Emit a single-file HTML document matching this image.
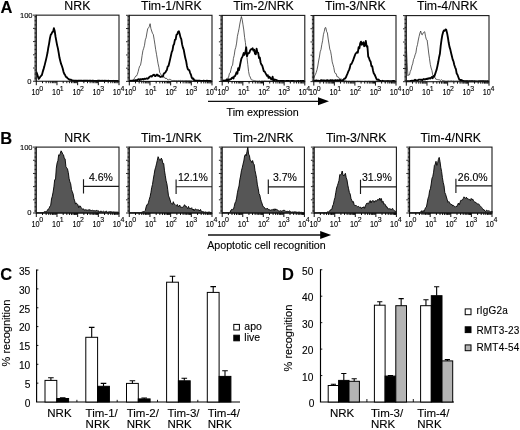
<!DOCTYPE html>
<html><head><meta charset="utf-8"><title>Figure</title>
<style>html,body{margin:0;padding:0;background:#fff;}body{width:520px;height:430px;overflow:hidden;font-family:"Liberation Sans",sans-serif;}svg{display:block;filter:blur(0.35px);}</style>
</head><body>
<svg width="520" height="430" viewBox="0 0 520 430" font-family="Liberation Sans, sans-serif" fill="#000">
<style>text{fill:#000;stroke:#000;stroke-width:0.12px;}</style>
<rect width="520" height="430" fill="#fff"/>
<text transform="translate(0.6,13.0) scale(1.02,1)" font-size="16.2" font-weight="bold" style="stroke-width:0.1px">A</text>
<text transform="translate(0.2,143.9) scale(1.02,1)" font-size="16.2" font-weight="bold" style="stroke-width:0.1px">B</text>
<text transform="translate(0.2,279.6) scale(1.02,1)" font-size="16.2" font-weight="bold" style="stroke-width:0.1px">C</text>
<text transform="translate(281.9,279.5) scale(1.02,1)" font-size="16.2" font-weight="bold" style="stroke-width:0.1px">D</text>
<text x="77.35" y="9.80" font-size="12.35" text-anchor="middle" font-weight="normal" fill="#000">NRK</text>
<path d="M36.3,71.9 L37.1,73.8 L37.9,76.4 L38.7,78.9 L39.5,77.9 L40.3,76.7 L41.1,75.9 L41.9,74.9 L42.7,71.9 L43.5,69.4 L44.3,66.6 L45.1,63.4 L45.9,60.1 L46.7,56.6 L47.5,52.8 L48.3,47.7 L49.1,43.6 L49.9,38.5 L50.7,34.9 L51.5,33.9 L52.3,32.1 L53.1,31.7 L53.9,28.2 L54.7,31.0 L55.5,36.5 L56.3,40.8 L57.1,45.1 L57.9,48.4 L58.7,52.9 L59.5,57.8 L60.3,60.9 L61.1,63.9 L61.9,66.0 L62.7,68.5 L63.5,71.8 L64.3,73.9 L65.1,75.0 L65.9,76.9 L66.7,77.1 L67.5,78.3 L68.3,78.8 L69.1,79.4 L69.9,79.9 L70.7,79.6 L71.5,80.1 L72.3,80.3 L73.1,80.5 L73.9,80.6 L74.7,80.6 L75.5,80.6 L76.3,80.6 L77.1,80.8 L77.9,80.7 L78.7,80.7 L79.5,80.6 L80.3,80.6 L81.1,80.7 L81.9,80.6 L82.7,80.8 L83.5,80.7 L84.3,80.7 L85.1,80.7 L85.9,80.7 L86.7,80.7 L87.5,80.6 L88.3,80.8 L89.1,80.6 L89.9,80.7 L90.7,80.7 L91.5,80.8 L92.3,80.7 L93.1,80.7 L93.9,80.8 L94.7,80.8 L95.5,80.8 L96.3,80.8 L97.1,80.8 L97.9,80.7 L98.7,80.7 L99.5,80.7 L100.3,80.8 L101.1,80.7 L101.9,80.8 L102.7,80.7 L103.5,80.8 L104.3,80.7 L105.1,80.8 L105.9,80.7 L106.7,80.8 L107.5,80.9 L108.3,80.7 L109.1,80.8 L109.9,80.9 L110.7,80.9 L111.5,80.9 L112.3,80.9 L113.1,80.9 L113.9,80.8 L114.7,80.9 L115.5,80.8 L116.3,80.9 L117.1,80.8 L117.9,80.8 L118.7,80.9" fill="none" stroke="#000" stroke-width="1.85" stroke-linejoin="round"/>
<rect x="36.3" y="15.15" width="82.7" height="66.1" fill="none" stroke="#1a1a1a" stroke-width="1.1"/>
<path d="M33.0,81.25H36.3M34.4,79.93H36.3M34.4,78.61H36.3M34.4,77.28H36.3M34.4,75.96H36.3M34.4,74.64H36.3M34.4,73.32H36.3M34.4,72.00H36.3M34.4,70.67H36.3M34.4,69.35H36.3M33.0,68.03H36.3M34.4,66.71H36.3M34.4,65.39H36.3M34.4,64.06H36.3M34.4,62.74H36.3M34.4,61.42H36.3M34.4,60.10H36.3M34.4,58.78H36.3M34.4,57.45H36.3M34.4,56.13H36.3M33.0,54.81H36.3M34.4,53.49H36.3M34.4,52.17H36.3M34.4,50.84H36.3M34.4,49.52H36.3M34.4,48.20H36.3M34.4,46.88H36.3M34.4,45.56H36.3M34.4,44.23H36.3M34.4,42.91H36.3M33.0,41.59H36.3M34.4,40.27H36.3M34.4,38.95H36.3M34.4,37.62H36.3M34.4,36.30H36.3M34.4,34.98H36.3M34.4,33.66H36.3M34.4,32.34H36.3M34.4,31.01H36.3M34.4,29.69H36.3M33.0,28.37H36.3M34.4,27.05H36.3M34.4,25.73H36.3M34.4,24.40H36.3M34.4,23.08H36.3M34.4,21.76H36.3M34.4,20.44H36.3M34.4,19.12H36.3M34.4,17.79H36.3M34.4,16.47H36.3M33.0,15.15H36.3" stroke="#000" stroke-width="0.85" fill="none"/>
<path d="M36.30,81.25V85.2M42.52,81.25V83.2M46.16,81.25V83.2M48.75,81.25V83.2M50.75,81.25V83.2M52.39,81.25V83.2M53.77,81.25V83.2M54.97,81.25V83.2M56.03,81.25V83.2M56.97,81.25V85.2M63.20,81.25V83.2M66.84,81.25V83.2M69.42,81.25V83.2M71.43,81.25V83.2M73.06,81.25V83.2M74.45,81.25V83.2M75.65,81.25V83.2M76.70,81.25V83.2M77.65,81.25V85.2M83.87,81.25V83.2M87.51,81.25V83.2M90.10,81.25V83.2M92.10,81.25V83.2M93.74,81.25V83.2M95.12,81.25V83.2M96.32,81.25V83.2M97.38,81.25V83.2M98.33,81.25V85.2M104.55,81.25V83.2M108.19,81.25V83.2M110.77,81.25V83.2M112.78,81.25V83.2M114.41,81.25V83.2M115.80,81.25V83.2M117.00,81.25V83.2M118.05,81.25V83.2M119.00,81.25V85.2" stroke="#000" stroke-width="0.95" fill="none"/>
<text transform="translate(31.50,94.95) scale(0.85,1)" font-size="8.6">10</text>
<text x="39.20" y="90.55" font-size="7">0</text>
<text transform="translate(52.07,94.95) scale(0.85,1)" font-size="8.6">10</text>
<text x="59.77" y="90.55" font-size="7">1</text>
<text transform="translate(72.40,94.95) scale(0.85,1)" font-size="8.6">10</text>
<text x="80.10" y="90.55" font-size="7">2</text>
<text transform="translate(92.53,94.95) scale(0.85,1)" font-size="8.6">10</text>
<text x="100.23" y="90.55" font-size="7">3</text>
<text transform="translate(112.70,94.95) scale(0.85,1)" font-size="8.6">10</text>
<text x="120.40" y="90.55" font-size="7">4</text>
<text x="32.60" y="17.85" font-size="7.6" text-anchor="end" fill="#000">100</text>
<text x="31.50" y="83.65" font-size="7.6" text-anchor="end" fill="#000">0</text>
<text x="171.35" y="9.80" font-size="12.35" text-anchor="middle" font-weight="normal" fill="#000">Tim-1/NRK</text>
<path d="M129.3,80.9 L130.1,80.9 L130.9,80.8 L131.7,81.0 L132.5,80.5 L133.3,79.9 L134.1,78.9 L134.9,77.4 L135.7,76.2 L136.5,76.0 L137.3,74.4 L138.1,71.8 L138.9,68.5 L139.7,66.1 L140.5,65.2 L141.3,61.1 L142.1,55.5 L142.9,50.7 L143.7,48.3 L144.5,45.3 L145.3,39.8 L146.1,37.8 L146.9,33.0 L147.7,28.8 L148.5,27.9 L149.3,26.5 L150.1,23.7 L150.9,28.5 L151.7,31.0 L152.5,33.3 L153.3,34.5 L154.1,39.2 L154.9,44.2 L155.7,49.7 L156.5,54.3 L157.3,59.1 L158.1,63.8 L158.9,67.3 L159.7,72.5 L160.5,73.7 L161.3,75.3 L162.1,76.5 L162.9,76.5 L163.7,77.0 L164.5,77.1 L165.3,78.6 L166.1,78.3 L166.9,78.6 L167.7,79.8 L168.5,79.8 L169.3,79.3 L170.1,79.6 L170.9,79.7 L171.7,80.4 L172.5,80.5 L173.3,80.5 L174.1,80.4 L174.9,80.6 L175.7,80.6 L176.5,80.5 L177.3,80.8 L178.1,80.4 L178.9,80.7 L179.7,80.6 L180.5,80.4 L181.3,80.7 L182.1,80.7 L182.9,80.5 L183.7,80.8 L184.5,80.7 L185.3,80.6 L186.1,80.6 L186.9,80.6 L187.7,80.7 L188.5,80.6 L189.3,80.6 L190.1,80.7 L190.9,80.8 L191.7,80.8 L192.5,81.0 L193.3,80.7 L194.1,81.0 L194.9,80.7 L195.7,80.6 L196.5,80.9 L197.3,80.9 L198.1,80.9 L198.9,80.8 L199.7,80.9 L200.5,80.9 L201.3,80.9 L202.1,80.9 L202.9,80.8 L203.7,81.0 L204.5,80.9 L205.3,80.9 L206.1,80.8 L206.9,81.0 L207.7,80.8 L208.5,80.9 L209.3,80.9 L210.1,81.0 L210.9,81.1 L211.7,81.0" fill="none" stroke="#2a2a2a" stroke-width="0.75" stroke-linejoin="round"/>
<path d="M129.3,80.9 L130.1,80.8 L130.9,80.6 L131.7,80.8 L132.5,80.5 L133.3,80.8 L134.1,80.5 L134.9,80.4 L135.7,80.1 L136.5,80.2 L137.3,80.4 L138.1,79.4 L138.9,79.2 L139.7,80.1 L140.5,79.2 L141.3,79.6 L142.1,79.1 L142.9,78.9 L143.7,79.5 L144.5,78.6 L145.3,79.0 L146.1,78.7 L146.9,78.2 L147.7,78.8 L148.5,78.3 L149.3,77.0 L150.1,76.5 L150.9,76.1 L151.7,76.6 L152.5,75.6 L153.3,74.8 L154.1,74.7 L154.9,76.1 L155.7,76.1 L156.5,74.7 L157.3,74.6 L158.1,75.9 L158.9,75.7 L159.7,76.5 L160.5,77.0 L161.3,76.6 L162.1,76.4 L162.9,76.5 L163.7,73.8 L164.5,73.0 L165.3,72.7 L166.1,71.1 L166.9,69.9 L167.7,66.5 L168.5,66.0 L169.3,62.8 L170.1,59.4 L170.9,55.8 L171.7,52.1 L172.5,50.3 L173.3,45.5 L174.1,44.1 L174.9,39.8 L175.7,39.4 L176.5,34.7 L177.3,34.2 L178.1,31.7 L178.9,31.2 L179.7,34.0 L180.5,37.4 L181.3,39.1 L182.1,44.4 L182.9,47.6 L183.7,49.7 L184.5,54.0 L185.3,58.1 L186.1,60.9 L186.9,65.7 L187.7,68.9 L188.5,69.9 L189.3,70.2 L190.1,72.8 L190.9,74.6 L191.7,77.6 L192.5,78.8 L193.3,78.4 L194.1,80.1 L194.9,81.2 L195.7,80.5 L196.5,80.6 L197.3,80.6 L198.1,80.6 L198.9,80.7 L199.7,80.7 L200.5,80.9 L201.3,80.8 L202.1,80.9 L202.9,80.9 L203.7,80.6 L204.5,80.8 L205.3,80.8 L206.1,81.0 L206.9,80.6 L207.7,81.1 L208.5,81.0 L209.3,80.9 L210.1,81.0 L210.9,81.1 L211.7,80.9" fill="none" stroke="#000" stroke-width="1.85" stroke-linejoin="round"/>
<rect x="129.3" y="15.3" width="82.69999999999999" height="66.10000000000001" fill="none" stroke="#1a1a1a" stroke-width="1.1"/>
<path d="M126.0,81.40H129.3M127.4,80.08H129.3M127.4,78.76H129.3M127.4,77.43H129.3M127.4,76.11H129.3M127.4,74.79H129.3M127.4,73.47H129.3M127.4,72.15H129.3M127.4,70.82H129.3M127.4,69.50H129.3M126.0,68.18H129.3M127.4,66.86H129.3M127.4,65.54H129.3M127.4,64.21H129.3M127.4,62.89H129.3M127.4,61.57H129.3M127.4,60.25H129.3M127.4,58.93H129.3M127.4,57.60H129.3M127.4,56.28H129.3M126.0,54.96H129.3M127.4,53.64H129.3M127.4,52.32H129.3M127.4,50.99H129.3M127.4,49.67H129.3M127.4,48.35H129.3M127.4,47.03H129.3M127.4,45.71H129.3M127.4,44.38H129.3M127.4,43.06H129.3M126.0,41.74H129.3M127.4,40.42H129.3M127.4,39.10H129.3M127.4,37.77H129.3M127.4,36.45H129.3M127.4,35.13H129.3M127.4,33.81H129.3M127.4,32.49H129.3M127.4,31.16H129.3M127.4,29.84H129.3M126.0,28.52H129.3M127.4,27.20H129.3M127.4,25.88H129.3M127.4,24.55H129.3M127.4,23.23H129.3M127.4,21.91H129.3M127.4,20.59H129.3M127.4,19.27H129.3M127.4,17.94H129.3M127.4,16.62H129.3M126.0,15.30H129.3" stroke="#000" stroke-width="0.85" fill="none"/>
<path d="M129.30,81.4V85.4M135.52,81.4V83.4M139.16,81.4V83.4M141.75,81.4V83.4M143.75,81.4V83.4M145.39,81.4V83.4M146.77,81.4V83.4M147.97,81.4V83.4M149.03,81.4V83.4M149.98,81.4V85.4M156.20,81.4V83.4M159.84,81.4V83.4M162.42,81.4V83.4M164.43,81.4V83.4M166.06,81.4V83.4M167.45,81.4V83.4M168.65,81.4V83.4M169.70,81.4V83.4M170.65,81.4V85.4M176.87,81.4V83.4M180.51,81.4V83.4M183.10,81.4V83.4M185.10,81.4V83.4M186.74,81.4V83.4M188.12,81.4V83.4M189.32,81.4V83.4M190.38,81.4V83.4M191.32,81.4V85.4M197.55,81.4V83.4M201.19,81.4V83.4M203.77,81.4V83.4M205.78,81.4V83.4M207.41,81.4V83.4M208.80,81.4V83.4M210.00,81.4V83.4M211.05,81.4V83.4M212.00,81.4V85.4" stroke="#000" stroke-width="0.95" fill="none"/>
<text transform="translate(124.50,95.10) scale(0.85,1)" font-size="8.6">10</text>
<text x="132.20" y="90.70" font-size="7">0</text>
<text transform="translate(145.08,95.10) scale(0.85,1)" font-size="8.6">10</text>
<text x="152.78" y="90.70" font-size="7">1</text>
<text transform="translate(165.40,95.10) scale(0.85,1)" font-size="8.6">10</text>
<text x="173.10" y="90.70" font-size="7">2</text>
<text transform="translate(185.52,95.10) scale(0.85,1)" font-size="8.6">10</text>
<text x="193.22" y="90.70" font-size="7">3</text>
<text transform="translate(205.70,95.10) scale(0.85,1)" font-size="8.6">10</text>
<text x="213.40" y="90.70" font-size="7">4</text>
<text x="263.50" y="9.80" font-size="12.35" text-anchor="middle" font-weight="normal" fill="#000">Tim-2/NRK</text>
<path d="M222.2,81.1 L223.0,81.1 L223.8,80.9 L224.6,81.0 L225.4,79.9 L226.2,80.0 L227.0,78.5 L227.8,77.7 L228.6,77.3 L229.4,73.5 L230.2,72.9 L231.0,69.4 L231.8,66.1 L232.6,65.2 L233.4,58.5 L234.2,55.4 L235.0,49.8 L235.8,47.3 L236.6,43.1 L237.4,36.3 L238.2,32.7 L239.0,28.8 L239.8,24.0 L240.6,19.9 L241.4,16.5 L242.2,19.7 L243.0,24.8 L243.8,30.0 L244.6,37.4 L245.4,42.5 L246.2,50.1 L247.0,57.7 L247.8,64.6 L248.6,71.6 L249.4,75.6 L250.2,77.0 L251.0,79.1 L251.8,80.2 L252.6,80.1 L253.4,80.4 L254.2,80.6 L255.0,80.8 L255.8,80.8 L256.6,81.0 L257.4,81.0 L258.2,81.1 L259.0,81.0 L259.8,80.8 L260.6,81.3 L261.4,81.0 L262.2,81.0 L263.0,80.9 L263.8,81.1 L264.6,80.8 L265.4,80.9 L266.2,81.0 L267.0,81.0 L267.8,81.1 L268.6,81.0 L269.4,81.0 L270.2,80.9 L271.0,81.0 L271.8,81.0 L272.6,81.0 L273.4,81.0 L274.2,81.0 L275.0,81.2 L275.8,80.9 L276.6,81.1 L277.4,81.1 L278.2,81.1 L279.0,81.0 L279.8,80.9 L280.6,81.2 L281.4,80.9 L282.2,80.9 L283.0,81.1 L283.8,81.1 L284.6,81.1 L285.4,81.1 L286.2,81.2 L287.0,81.2 L287.8,81.1 L288.6,81.0 L289.4,80.9 L290.2,81.2 L291.0,81.3 L291.8,81.1 L292.6,81.1 L293.4,81.0 L294.2,81.1 L295.0,81.2 L295.8,81.1 L296.6,81.0 L297.4,81.1 L298.2,81.2 L299.0,81.0 L299.8,81.2 L300.6,81.1 L301.4,81.1 L302.2,81.2 L303.0,81.2 L303.8,81.1 L304.6,81.1" fill="none" stroke="#2a2a2a" stroke-width="0.75" stroke-linejoin="round"/>
<path d="M222.2,81.0 L223.0,81.1 L223.8,80.5 L224.6,80.6 L225.4,80.5 L226.2,80.9 L227.0,79.4 L227.8,80.7 L228.6,79.2 L229.4,79.9 L230.2,79.3 L231.0,79.1 L231.8,78.0 L232.6,77.4 L233.4,78.6 L234.2,76.3 L235.0,76.1 L235.8,74.4 L236.6,72.1 L237.4,73.7 L238.2,68.1 L239.0,70.1 L239.8,66.2 L240.6,62.2 L241.4,58.6 L242.2,57.1 L243.0,55.4 L243.8,52.9 L244.6,54.8 L245.4,52.2 L246.2,47.3 L247.0,56.1 L247.8,53.6 L248.6,53.1 L249.4,52.8 L250.2,50.3 L251.0,49.2 L251.8,49.2 L252.6,48.3 L253.4,50.6 L254.2,49.7 L255.0,53.7 L255.8,54.3 L256.6,48.6 L257.4,52.5 L258.2,52.8 L259.0,58.1 L259.8,57.5 L260.6,62.5 L261.4,64.6 L262.2,65.4 L263.0,68.2 L263.8,71.3 L264.6,71.3 L265.4,72.9 L266.2,74.4 L267.0,75.9 L267.8,75.2 L268.6,77.9 L269.4,76.8 L270.2,77.7 L271.0,79.1 L271.8,79.3 L272.6,76.7 L273.4,80.7 L274.2,79.4 L275.0,80.0 L275.8,79.7 L276.6,80.3 L277.4,80.5 L278.2,80.8 L279.0,81.0 L279.8,81.2 L280.6,81.0 L281.4,80.9 L282.2,80.9 L283.0,80.8 L283.8,81.0 L284.6,81.2 L285.4,81.1 L286.2,81.0 L287.0,80.9 L287.8,80.9 L288.6,80.9 L289.4,81.2 L290.2,81.1 L291.0,81.0 L291.8,81.0 L292.6,80.9 L293.4,81.2 L294.2,81.0 L295.0,81.3 L295.8,81.1 L296.6,81.1 L297.4,81.1 L298.2,80.9 L299.0,81.1 L299.8,81.1 L300.6,81.0 L301.4,81.2 L302.2,80.9 L303.0,81.2 L303.8,81.0 L304.6,81.1" fill="none" stroke="#000" stroke-width="1.85" stroke-linejoin="round"/>
<rect x="222.2" y="15.4" width="82.60000000000002" height="66.1" fill="none" stroke="#1a1a1a" stroke-width="1.1"/>
<path d="M218.9,81.50H222.2M220.3,80.18H222.2M220.3,78.86H222.2M220.3,77.53H222.2M220.3,76.21H222.2M220.3,74.89H222.2M220.3,73.57H222.2M220.3,72.25H222.2M220.3,70.92H222.2M220.3,69.60H222.2M218.9,68.28H222.2M220.3,66.96H222.2M220.3,65.64H222.2M220.3,64.31H222.2M220.3,62.99H222.2M220.3,61.67H222.2M220.3,60.35H222.2M220.3,59.03H222.2M220.3,57.70H222.2M220.3,56.38H222.2M218.9,55.06H222.2M220.3,53.74H222.2M220.3,52.42H222.2M220.3,51.09H222.2M220.3,49.77H222.2M220.3,48.45H222.2M220.3,47.13H222.2M220.3,45.81H222.2M220.3,44.48H222.2M220.3,43.16H222.2M218.9,41.84H222.2M220.3,40.52H222.2M220.3,39.20H222.2M220.3,37.87H222.2M220.3,36.55H222.2M220.3,35.23H222.2M220.3,33.91H222.2M220.3,32.59H222.2M220.3,31.26H222.2M220.3,29.94H222.2M218.9,28.62H222.2M220.3,27.30H222.2M220.3,25.98H222.2M220.3,24.65H222.2M220.3,23.33H222.2M220.3,22.01H222.2M220.3,20.69H222.2M220.3,19.37H222.2M220.3,18.04H222.2M220.3,16.72H222.2M218.9,15.40H222.2" stroke="#000" stroke-width="0.85" fill="none"/>
<path d="M222.20,81.5V85.5M228.42,81.5V83.5M232.05,81.5V83.5M234.63,81.5V83.5M236.63,81.5V83.5M238.27,81.5V83.5M239.65,81.5V83.5M240.85,81.5V83.5M241.91,81.5V83.5M242.85,81.5V85.5M249.07,81.5V83.5M252.70,81.5V83.5M255.28,81.5V83.5M257.28,81.5V83.5M258.92,81.5V83.5M260.30,81.5V83.5M261.50,81.5V83.5M262.56,81.5V83.5M263.50,81.5V85.5M269.72,81.5V83.5M273.35,81.5V83.5M275.93,81.5V83.5M277.93,81.5V83.5M279.57,81.5V83.5M280.95,81.5V83.5M282.15,81.5V83.5M283.21,81.5V83.5M284.15,81.5V85.5M290.37,81.5V83.5M294.00,81.5V83.5M296.58,81.5V83.5M298.58,81.5V83.5M300.22,81.5V83.5M301.60,81.5V83.5M302.80,81.5V83.5M303.86,81.5V83.5M304.80,81.5V85.5" stroke="#000" stroke-width="0.95" fill="none"/>
<text transform="translate(217.40,95.20) scale(0.85,1)" font-size="8.6">10</text>
<text x="225.10" y="90.80" font-size="7">0</text>
<text transform="translate(237.95,95.20) scale(0.85,1)" font-size="8.6">10</text>
<text x="245.65" y="90.80" font-size="7">1</text>
<text transform="translate(258.25,95.20) scale(0.85,1)" font-size="8.6">10</text>
<text x="265.95" y="90.80" font-size="7">2</text>
<text transform="translate(278.35,95.20) scale(0.85,1)" font-size="8.6">10</text>
<text x="286.05" y="90.80" font-size="7">3</text>
<text transform="translate(298.50,95.20) scale(0.85,1)" font-size="8.6">10</text>
<text x="306.20" y="90.80" font-size="7">4</text>
<text x="355.40" y="9.80" font-size="12.35" text-anchor="middle" font-weight="normal" fill="#000">Tim-3/NRK</text>
<path d="M313.8,78.5 L314.6,75.9 L315.4,74.6 L316.2,72.5 L317.0,69.7 L317.8,66.0 L318.6,61.0 L319.4,57.1 L320.2,51.8 L321.0,49.5 L321.8,44.5 L322.6,40.7 L323.4,34.7 L324.2,31.7 L325.0,27.8 L325.8,27.6 L326.6,31.5 L327.4,32.9 L328.2,39.0 L329.0,44.0 L329.8,49.2 L330.6,51.3 L331.4,55.8 L332.2,61.9 L333.0,64.7 L333.8,67.6 L334.6,72.1 L335.4,73.5 L336.2,73.7 L337.0,76.8 L337.8,76.8 L338.6,77.2 L339.4,78.8 L340.2,79.0 L341.0,79.0 L341.8,79.2 L342.6,79.6 L343.4,80.7 L344.2,80.6 L345.0,80.5 L345.8,80.8 L346.6,80.8 L347.4,81.1 L348.2,81.1 L349.0,80.9 L349.8,81.1 L350.6,81.2 L351.4,81.1 L352.2,81.1 L353.0,81.0 L353.8,81.1 L354.6,81.1 L355.4,81.2 L356.2,81.2 L357.0,81.0 L357.8,80.9 L358.6,81.1 L359.4,81.1 L360.2,81.1 L361.0,81.2 L361.8,81.2 L362.6,81.2 L363.4,81.3 L364.2,81.2 L365.0,81.1 L365.8,81.1 L366.6,81.2 L367.4,81.2 L368.2,81.1 L369.0,81.0 L369.8,81.2 L370.6,81.2 L371.4,81.2 L372.2,81.1 L373.0,81.2 L373.8,81.1 L374.6,81.2 L375.4,81.1 L376.2,81.2 L377.0,81.2 L377.8,81.1 L378.6,81.3 L379.4,81.2 L380.2,81.1 L381.0,81.1 L381.8,81.2 L382.6,81.4 L383.4,81.1 L384.2,81.1 L385.0,81.2 L385.8,81.3 L386.6,81.1 L387.4,81.0 L388.2,81.1 L389.0,81.1 L389.8,81.2 L390.6,81.2 L391.4,81.2 L392.2,81.3 L393.0,81.2 L393.8,81.3 L394.6,81.3 L395.4,81.3" fill="none" stroke="#2a2a2a" stroke-width="0.75" stroke-linejoin="round"/>
<path d="M313.8,80.6 L314.6,80.7 L315.4,80.8 L316.2,80.4 L317.0,80.5 L317.8,80.8 L318.6,80.7 L319.4,80.8 L320.2,80.9 L321.0,80.1 L321.8,80.6 L322.6,80.4 L323.4,80.4 L324.2,80.5 L325.0,80.7 L325.8,80.7 L326.6,80.3 L327.4,80.1 L328.2,80.8 L329.0,80.6 L329.8,80.4 L330.6,80.1 L331.4,80.3 L332.2,80.2 L333.0,80.3 L333.8,80.6 L334.6,80.4 L335.4,80.1 L336.2,80.4 L337.0,80.7 L337.8,80.1 L338.6,80.3 L339.4,80.2 L340.2,79.9 L341.0,80.5 L341.8,80.6 L342.6,81.0 L343.4,79.8 L344.2,78.7 L345.0,78.5 L345.8,77.7 L346.6,75.6 L347.4,73.9 L348.2,71.7 L349.0,70.1 L349.8,67.9 L350.6,64.4 L351.4,64.0 L352.2,62.4 L353.0,60.7 L353.8,58.3 L354.6,56.2 L355.4,54.0 L356.2,53.0 L357.0,52.1 L357.8,52.7 L358.6,47.3 L359.4,48.3 L360.2,43.4 L361.0,41.6 L361.8,44.8 L362.6,43.3 L363.4,42.2 L364.2,46.2 L365.0,45.0 L365.8,41.0 L366.6,46.5 L367.4,46.3 L368.2,56.5 L369.0,58.0 L369.8,60.5 L370.6,61.6 L371.4,66.2 L372.2,66.2 L373.0,70.4 L373.8,73.4 L374.6,74.5 L375.4,76.3 L376.2,78.2 L377.0,79.7 L377.8,79.9 L378.6,79.5 L379.4,80.5 L380.2,80.8 L381.0,81.2 L381.8,81.3 L382.6,80.8 L383.4,81.1 L384.2,81.1 L385.0,81.3 L385.8,81.1 L386.6,81.1 L387.4,81.1 L388.2,81.0 L389.0,81.3 L389.8,81.1 L390.6,81.4 L391.4,81.1 L392.2,81.3 L393.0,80.9 L393.8,81.4 L394.6,81.0 L395.4,81.3" fill="none" stroke="#000" stroke-width="1.85" stroke-linejoin="round"/>
<rect x="313.8" y="15.5" width="82.19999999999999" height="66.10000000000001" fill="none" stroke="#1a1a1a" stroke-width="1.1"/>
<path d="M310.5,81.60H313.8M311.9,80.28H313.8M311.9,78.96H313.8M311.9,77.63H313.8M311.9,76.31H313.8M311.9,74.99H313.8M311.9,73.67H313.8M311.9,72.35H313.8M311.9,71.02H313.8M311.9,69.70H313.8M310.5,68.38H313.8M311.9,67.06H313.8M311.9,65.74H313.8M311.9,64.41H313.8M311.9,63.09H313.8M311.9,61.77H313.8M311.9,60.45H313.8M311.9,59.13H313.8M311.9,57.80H313.8M311.9,56.48H313.8M310.5,55.16H313.8M311.9,53.84H313.8M311.9,52.52H313.8M311.9,51.19H313.8M311.9,49.87H313.8M311.9,48.55H313.8M311.9,47.23H313.8M311.9,45.91H313.8M311.9,44.58H313.8M311.9,43.26H313.8M310.5,41.94H313.8M311.9,40.62H313.8M311.9,39.30H313.8M311.9,37.97H313.8M311.9,36.65H313.8M311.9,35.33H313.8M311.9,34.01H313.8M311.9,32.69H313.8M311.9,31.36H313.8M311.9,30.04H313.8M310.5,28.72H313.8M311.9,27.40H313.8M311.9,26.08H313.8M311.9,24.75H313.8M311.9,23.43H313.8M311.9,22.11H313.8M311.9,20.79H313.8M311.9,19.47H313.8M311.9,18.14H313.8M311.9,16.82H313.8M310.5,15.50H313.8" stroke="#000" stroke-width="0.85" fill="none"/>
<path d="M313.80,81.60000000000001V85.6M319.99,81.60000000000001V83.6M323.60,81.60000000000001V83.6M326.17,81.60000000000001V83.6M328.16,81.60000000000001V83.6M329.79,81.60000000000001V83.6M331.17,81.60000000000001V83.6M332.36,81.60000000000001V83.6M333.41,81.60000000000001V83.6M334.35,81.60000000000001V85.6M340.54,81.60000000000001V83.6M344.15,81.60000000000001V83.6M346.72,81.60000000000001V83.6M348.71,81.60000000000001V83.6M350.34,81.60000000000001V83.6M351.72,81.60000000000001V83.6M352.91,81.60000000000001V83.6M353.96,81.60000000000001V83.6M354.90,81.60000000000001V85.6M361.09,81.60000000000001V83.6M364.70,81.60000000000001V83.6M367.27,81.60000000000001V83.6M369.26,81.60000000000001V83.6M370.89,81.60000000000001V83.6M372.27,81.60000000000001V83.6M373.46,81.60000000000001V83.6M374.51,81.60000000000001V83.6M375.45,81.60000000000001V85.6M381.64,81.60000000000001V83.6M385.25,81.60000000000001V83.6M387.82,81.60000000000001V83.6M389.81,81.60000000000001V83.6M391.44,81.60000000000001V83.6M392.82,81.60000000000001V83.6M394.01,81.60000000000001V83.6M395.06,81.60000000000001V83.6M396.00,81.60000000000001V85.6" stroke="#000" stroke-width="0.95" fill="none"/>
<text transform="translate(309.00,95.30) scale(0.85,1)" font-size="8.6">10</text>
<text x="316.70" y="90.90" font-size="7">0</text>
<text transform="translate(329.45,95.30) scale(0.85,1)" font-size="8.6">10</text>
<text x="337.15" y="90.90" font-size="7">1</text>
<text transform="translate(349.65,95.30) scale(0.85,1)" font-size="8.6">10</text>
<text x="357.35" y="90.90" font-size="7">2</text>
<text transform="translate(369.65,95.30) scale(0.85,1)" font-size="8.6">10</text>
<text x="377.35" y="90.90" font-size="7">3</text>
<text transform="translate(389.70,95.30) scale(0.85,1)" font-size="8.6">10</text>
<text x="397.40" y="90.90" font-size="7">4</text>
<text x="447.35" y="9.80" font-size="12.35" text-anchor="middle" font-weight="normal" fill="#000">Tim-4/NRK</text>
<path d="M406.3,45.5 L407.1,62.3 L407.9,75.8 L408.7,74.7 L409.5,74.8 L410.3,71.2 L411.1,69.8 L411.9,65.9 L412.7,63.8 L413.5,59.5 L414.3,57.8 L415.1,54.8 L415.9,52.9 L416.7,47.4 L417.5,44.6 L418.3,40.0 L419.1,36.4 L419.9,33.1 L420.7,31.0 L421.5,34.3 L422.3,34.8 L423.1,32.9 L423.9,32.4 L424.7,31.7 L425.5,36.2 L426.3,39.4 L427.1,40.0 L427.9,46.1 L428.7,53.0 L429.5,58.7 L430.3,64.4 L431.1,68.0 L431.9,70.4 L432.7,74.8 L433.5,76.3 L434.3,76.9 L435.1,77.8 L435.9,79.3 L436.7,79.4 L437.5,79.6 L438.3,79.7 L439.1,79.9 L439.9,79.9 L440.7,80.5 L441.5,79.6 L442.3,80.5 L443.1,80.5 L443.9,80.6 L444.7,80.8 L445.5,81.0 L446.3,81.1 L447.1,81.0 L447.9,80.9 L448.7,80.8 L449.5,81.0 L450.3,80.9 L451.1,80.6 L451.9,80.9 L452.7,81.0 L453.5,80.8 L454.3,81.0 L455.1,81.2 L455.9,80.9 L456.7,81.0 L457.5,81.0 L458.3,80.8 L459.1,81.0 L459.9,81.1 L460.7,80.8 L461.5,81.2 L462.3,81.1 L463.1,80.9 L463.9,80.9 L464.7,81.1 L465.5,81.1 L466.3,81.0 L467.1,81.0 L467.9,81.1 L468.7,81.1 L469.5,81.2 L470.3,81.2 L471.1,81.2 L471.9,81.2 L472.7,81.2 L473.5,81.2 L474.3,81.3 L475.1,81.1 L475.9,81.0 L476.7,81.2 L477.5,81.3 L478.3,81.2 L479.1,81.1 L479.9,81.2 L480.7,81.1 L481.5,81.3 L482.3,81.3 L483.1,81.1 L483.9,81.3 L484.7,81.3 L485.5,81.5 L486.3,81.3 L487.1,81.3 L487.9,81.3 L488.7,81.2" fill="none" stroke="#2a2a2a" stroke-width="0.75" stroke-linejoin="round"/>
<path d="M406.3,81.1 L407.1,81.2 L407.9,81.1 L408.7,81.1 L409.5,81.1 L410.3,81.0 L411.1,80.8 L411.9,80.7 L412.7,80.9 L413.5,80.6 L414.3,80.5 L415.1,79.8 L415.9,80.1 L416.7,80.3 L417.5,80.5 L418.3,79.9 L419.1,79.6 L419.9,79.6 L420.7,79.9 L421.5,79.6 L422.3,80.3 L423.1,79.4 L423.9,79.0 L424.7,79.5 L425.5,79.3 L426.3,78.8 L427.1,79.2 L427.9,78.4 L428.7,78.7 L429.5,78.1 L430.3,78.5 L431.1,77.8 L431.9,77.0 L432.7,78.2 L433.5,76.0 L434.3,76.5 L435.1,74.1 L435.9,71.8 L436.7,69.4 L437.5,65.7 L438.3,61.8 L439.1,57.2 L439.9,53.8 L440.7,45.9 L441.5,40.0 L442.3,35.2 L443.1,32.2 L443.9,30.5 L444.7,30.8 L445.5,29.4 L446.3,29.9 L447.1,33.2 L447.9,37.5 L448.7,42.8 L449.5,46.9 L450.3,49.4 L451.1,53.0 L451.9,56.3 L452.7,59.6 L453.5,61.4 L454.3,65.0 L455.1,67.3 L455.9,69.2 L456.7,73.6 L457.5,74.8 L458.3,77.0 L459.1,79.1 L459.9,79.9 L460.7,80.4 L461.5,80.0 L462.3,80.6 L463.1,80.9 L463.9,81.2 L464.7,81.2 L465.5,81.2 L466.3,81.1 L467.1,81.2 L467.9,81.2 L468.7,81.3 L469.5,81.1 L470.3,81.4 L471.1,81.2 L471.9,81.2 L472.7,81.2 L473.5,81.3 L474.3,81.1 L475.1,81.3 L475.9,81.3 L476.7,81.3 L477.5,81.3 L478.3,81.3 L479.1,81.2 L479.9,81.3 L480.7,81.2 L481.5,81.1 L482.3,81.2 L483.1,81.2 L483.9,81.2 L484.7,81.4 L485.5,81.2 L486.3,81.3 L487.1,81.2 L487.9,81.2 L488.7,81.3" fill="none" stroke="#000" stroke-width="1.85" stroke-linejoin="round"/>
<rect x="406.3" y="15.600000000000001" width="82.69999999999999" height="66.1" fill="none" stroke="#1a1a1a" stroke-width="1.1"/>
<path d="M403.0,81.70H406.3M404.4,80.38H406.3M404.4,79.06H406.3M404.4,77.73H406.3M404.4,76.41H406.3M404.4,75.09H406.3M404.4,73.77H406.3M404.4,72.45H406.3M404.4,71.12H406.3M404.4,69.80H406.3M403.0,68.48H406.3M404.4,67.16H406.3M404.4,65.84H406.3M404.4,64.51H406.3M404.4,63.19H406.3M404.4,61.87H406.3M404.4,60.55H406.3M404.4,59.23H406.3M404.4,57.90H406.3M404.4,56.58H406.3M403.0,55.26H406.3M404.4,53.94H406.3M404.4,52.62H406.3M404.4,51.29H406.3M404.4,49.97H406.3M404.4,48.65H406.3M404.4,47.33H406.3M404.4,46.01H406.3M404.4,44.68H406.3M404.4,43.36H406.3M403.0,42.04H406.3M404.4,40.72H406.3M404.4,39.40H406.3M404.4,38.07H406.3M404.4,36.75H406.3M404.4,35.43H406.3M404.4,34.11H406.3M404.4,32.79H406.3M404.4,31.46H406.3M404.4,30.14H406.3M403.0,28.82H406.3M404.4,27.50H406.3M404.4,26.18H406.3M404.4,24.85H406.3M404.4,23.53H406.3M404.4,22.21H406.3M404.4,20.89H406.3M404.4,19.57H406.3M404.4,18.24H406.3M404.4,16.92H406.3M403.0,15.60H406.3" stroke="#000" stroke-width="0.85" fill="none"/>
<path d="M406.30,81.7V85.7M412.52,81.7V83.7M416.16,81.7V83.7M418.75,81.7V83.7M420.75,81.7V83.7M422.39,81.7V83.7M423.77,81.7V83.7M424.97,81.7V83.7M426.03,81.7V83.7M426.98,81.7V85.7M433.20,81.7V83.7M436.84,81.7V83.7M439.42,81.7V83.7M441.43,81.7V83.7M443.06,81.7V83.7M444.45,81.7V83.7M445.65,81.7V83.7M446.70,81.7V83.7M447.65,81.7V85.7M453.87,81.7V83.7M457.51,81.7V83.7M460.10,81.7V83.7M462.10,81.7V83.7M463.74,81.7V83.7M465.12,81.7V83.7M466.32,81.7V83.7M467.38,81.7V83.7M468.32,81.7V85.7M474.55,81.7V83.7M478.19,81.7V83.7M480.77,81.7V83.7M482.78,81.7V83.7M484.41,81.7V83.7M485.80,81.7V83.7M487.00,81.7V83.7M488.05,81.7V83.7M489.00,81.7V85.7" stroke="#000" stroke-width="0.95" fill="none"/>
<text transform="translate(401.50,95.40) scale(0.85,1)" font-size="8.6">10</text>
<text x="409.20" y="91.00" font-size="7">0</text>
<text transform="translate(422.08,95.40) scale(0.85,1)" font-size="8.6">10</text>
<text x="429.78" y="91.00" font-size="7">1</text>
<text transform="translate(442.40,95.40) scale(0.85,1)" font-size="8.6">10</text>
<text x="450.10" y="91.00" font-size="7">2</text>
<text transform="translate(462.52,95.40) scale(0.85,1)" font-size="8.6">10</text>
<text x="470.22" y="91.00" font-size="7">3</text>
<text transform="translate(482.70,95.40) scale(0.85,1)" font-size="8.6">10</text>
<text x="490.40" y="91.00" font-size="7">4</text>
<text x="77.35" y="141.50" font-size="12.35" text-anchor="middle" font-weight="normal" fill="#000">NRK</text>
<path d="M36.3,212.8 L37.1,212.7 L37.9,212.8 L38.7,212.7 L39.5,212.8 L40.3,212.7 L41.1,212.8 L41.9,212.6 L42.7,212.6 L43.5,212.4 L44.3,211.7 L45.1,211.6 L45.9,211.8 L46.7,211.5 L47.5,210.0 L48.3,209.0 L49.1,208.3 L49.9,206.3 L50.7,205.3 L51.5,199.0 L52.3,196.2 L53.1,192.1 L53.9,186.8 L54.7,179.7 L55.5,179.5 L56.3,168.1 L57.1,163.0 L57.9,160.7 L58.7,154.8 L59.5,155.5 L60.3,153.2 L61.1,150.8 L61.9,152.1 L62.7,154.1 L63.5,154.8 L64.3,158.4 L65.1,158.8 L65.9,166.5 L66.7,167.9 L67.5,168.9 L68.3,172.6 L69.1,178.5 L69.9,181.8 L70.7,183.8 L71.5,189.6 L72.3,191.8 L73.1,193.9 L73.9,198.5 L74.7,200.9 L75.5,204.1 L76.3,203.0 L77.1,203.7 L77.9,204.8 L78.7,207.7 L79.5,205.9 L80.3,206.0 L81.1,207.4 L81.9,208.7 L82.7,209.2 L83.5,208.8 L84.3,210.1 L85.1,210.0 L85.9,209.6 L86.7,210.1 L87.5,210.2 L88.3,210.5 L89.1,209.3 L89.9,210.8 L90.7,210.1 L91.5,210.5 L92.3,210.2 L93.1,210.7 L93.9,210.6 L94.7,210.7 L95.5,210.8 L96.3,210.5 L97.1,210.3 L97.9,211.3 L98.7,210.8 L99.5,212.5 L100.3,211.2 L101.1,211.3 L101.9,211.4 L102.7,211.9 L103.5,211.2 L104.3,211.8 L105.1,212.2 L105.9,211.2 L106.7,211.2 L107.5,212.5 L108.3,211.9 L109.1,212.0 L109.9,211.6 L110.7,211.7 L111.5,211.8 L112.3,212.1 L113.1,211.8 L113.9,212.1 L114.7,212.0 L115.5,212.1 L116.3,212.1 L117.1,212.2 L117.9,212.1 L118.7,212.3 L118.7,213.0 L36.3,213.0 Z" fill="#565656" stroke="#000" stroke-width="0.9" stroke-linejoin="round"/>
<rect x="36.3" y="147.1" width="82.7" height="65.9" fill="none" stroke="#1a1a1a" stroke-width="1.1"/>
<path d="M33.0,213.00H36.3M34.4,211.68H36.3M34.4,210.36H36.3M34.4,209.05H36.3M34.4,207.73H36.3M34.4,206.41H36.3M34.4,205.09H36.3M34.4,203.77H36.3M34.4,202.46H36.3M34.4,201.14H36.3M33.0,199.82H36.3M34.4,198.50H36.3M34.4,197.18H36.3M34.4,195.87H36.3M34.4,194.55H36.3M34.4,193.23H36.3M34.4,191.91H36.3M34.4,190.59H36.3M34.4,189.28H36.3M34.4,187.96H36.3M33.0,186.64H36.3M34.4,185.32H36.3M34.4,184.00H36.3M34.4,182.69H36.3M34.4,181.37H36.3M34.4,180.05H36.3M34.4,178.73H36.3M34.4,177.41H36.3M34.4,176.10H36.3M34.4,174.78H36.3M33.0,173.46H36.3M34.4,172.14H36.3M34.4,170.82H36.3M34.4,169.51H36.3M34.4,168.19H36.3M34.4,166.87H36.3M34.4,165.55H36.3M34.4,164.23H36.3M34.4,162.92H36.3M34.4,161.60H36.3M33.0,160.28H36.3M34.4,158.96H36.3M34.4,157.64H36.3M34.4,156.33H36.3M34.4,155.01H36.3M34.4,153.69H36.3M34.4,152.37H36.3M34.4,151.05H36.3M34.4,149.74H36.3M34.4,148.42H36.3M33.0,147.10H36.3" stroke="#000" stroke-width="0.85" fill="none"/>
<path d="M36.30,213.0V217.0M42.52,213.0V215.0M46.16,213.0V215.0M48.75,213.0V215.0M50.75,213.0V215.0M52.39,213.0V215.0M53.77,213.0V215.0M54.97,213.0V215.0M56.03,213.0V215.0M56.97,213.0V217.0M63.20,213.0V215.0M66.84,213.0V215.0M69.42,213.0V215.0M71.43,213.0V215.0M73.06,213.0V215.0M74.45,213.0V215.0M75.65,213.0V215.0M76.70,213.0V215.0M77.65,213.0V217.0M83.87,213.0V215.0M87.51,213.0V215.0M90.10,213.0V215.0M92.10,213.0V215.0M93.74,213.0V215.0M95.12,213.0V215.0M96.32,213.0V215.0M97.38,213.0V215.0M98.33,213.0V217.0M104.55,213.0V215.0M108.19,213.0V215.0M110.77,213.0V215.0M112.78,213.0V215.0M114.41,213.0V215.0M115.80,213.0V215.0M117.00,213.0V215.0M118.05,213.0V215.0M119.00,213.0V217.0" stroke="#000" stroke-width="0.95" fill="none"/>
<text transform="translate(31.50,226.70) scale(0.85,1)" font-size="8.6">10</text>
<text x="39.20" y="222.30" font-size="7">0</text>
<text transform="translate(52.07,226.70) scale(0.85,1)" font-size="8.6">10</text>
<text x="59.77" y="222.30" font-size="7">1</text>
<text transform="translate(72.40,226.70) scale(0.85,1)" font-size="8.6">10</text>
<text x="80.10" y="222.30" font-size="7">2</text>
<text transform="translate(92.53,226.70) scale(0.85,1)" font-size="8.6">10</text>
<text x="100.23" y="222.30" font-size="7">3</text>
<text transform="translate(112.70,226.70) scale(0.85,1)" font-size="8.6">10</text>
<text x="120.40" y="222.30" font-size="7">4</text>
<text x="32.60" y="149.80" font-size="7.6" text-anchor="end" fill="#000">100</text>
<text x="31.50" y="215.40" font-size="7.6" text-anchor="end" fill="#000">0</text>
<path d="M83.5,179.2V193.6M83.5,186.4H119" stroke="#1a1a1a" stroke-width="1.15" fill="none"/>
<text x="89.00" y="181.10" font-size="10.5" text-anchor="start" font-weight="normal" fill="#000">4.6%</text>
<text x="171.35" y="141.50" font-size="12.35" text-anchor="middle" font-weight="normal" fill="#000">Tim-1/NRK</text>
<path d="M129.3,212.8 L130.1,212.8 L130.9,212.8 L131.7,212.8 L132.5,212.8 L133.3,212.8 L134.1,212.8 L134.9,212.6 L135.7,212.8 L136.5,212.7 L137.3,212.7 L138.1,212.7 L138.9,212.8 L139.7,212.8 L140.5,212.6 L141.3,212.4 L142.1,212.3 L142.9,211.6 L143.7,211.6 L144.5,211.4 L145.3,210.5 L146.1,207.0 L146.9,204.7 L147.7,204.7 L148.5,202.3 L149.3,199.2 L150.1,196.6 L150.9,192.6 L151.7,187.6 L152.5,184.4 L153.3,179.1 L154.1,174.6 L154.9,169.8 L155.7,167.2 L156.5,163.9 L157.3,160.3 L158.1,156.7 L158.9,158.6 L159.7,160.4 L160.5,160.1 L161.3,158.1 L162.1,159.7 L162.9,163.7 L163.7,163.5 L164.5,170.8 L165.3,175.7 L166.1,180.8 L166.9,183.8 L167.7,189.3 L168.5,195.9 L169.3,197.5 L170.1,200.0 L170.9,202.9 L171.7,203.9 L172.5,204.3 L173.3,201.7 L174.1,204.0 L174.9,204.4 L175.7,205.2 L176.5,205.8 L177.3,204.4 L178.1,206.7 L178.9,206.2 L179.7,205.0 L180.5,207.3 L181.3,207.3 L182.1,207.1 L182.9,207.4 L183.7,206.3 L184.5,204.7 L185.3,206.1 L186.1,206.1 L186.9,207.4 L187.7,208.6 L188.5,206.4 L189.3,208.5 L190.1,208.3 L190.9,208.6 L191.7,207.7 L192.5,210.0 L193.3,209.0 L194.1,210.9 L194.9,209.2 L195.7,209.1 L196.5,209.7 L197.3,209.7 L198.1,210.0 L198.9,209.8 L199.7,211.0 L200.5,209.4 L201.3,211.4 L202.1,211.5 L202.9,211.8 L203.7,211.8 L204.5,212.2 L205.3,211.9 L206.1,212.2 L206.9,212.4 L207.7,212.3 L208.5,212.1 L209.3,212.0 L210.1,212.5 L210.9,212.4 L211.7,212.6 L211.7,213.0 L129.3,213.0 Z" fill="#565656" stroke="#000" stroke-width="0.9" stroke-linejoin="round"/>
<rect x="129.3" y="147.1" width="82.69999999999999" height="65.9" fill="none" stroke="#1a1a1a" stroke-width="1.1"/>
<path d="M126.0,213.00H129.3M127.4,211.68H129.3M127.4,210.36H129.3M127.4,209.05H129.3M127.4,207.73H129.3M127.4,206.41H129.3M127.4,205.09H129.3M127.4,203.77H129.3M127.4,202.46H129.3M127.4,201.14H129.3M126.0,199.82H129.3M127.4,198.50H129.3M127.4,197.18H129.3M127.4,195.87H129.3M127.4,194.55H129.3M127.4,193.23H129.3M127.4,191.91H129.3M127.4,190.59H129.3M127.4,189.28H129.3M127.4,187.96H129.3M126.0,186.64H129.3M127.4,185.32H129.3M127.4,184.00H129.3M127.4,182.69H129.3M127.4,181.37H129.3M127.4,180.05H129.3M127.4,178.73H129.3M127.4,177.41H129.3M127.4,176.10H129.3M127.4,174.78H129.3M126.0,173.46H129.3M127.4,172.14H129.3M127.4,170.82H129.3M127.4,169.51H129.3M127.4,168.19H129.3M127.4,166.87H129.3M127.4,165.55H129.3M127.4,164.23H129.3M127.4,162.92H129.3M127.4,161.60H129.3M126.0,160.28H129.3M127.4,158.96H129.3M127.4,157.64H129.3M127.4,156.33H129.3M127.4,155.01H129.3M127.4,153.69H129.3M127.4,152.37H129.3M127.4,151.05H129.3M127.4,149.74H129.3M127.4,148.42H129.3M126.0,147.10H129.3" stroke="#000" stroke-width="0.85" fill="none"/>
<path d="M129.30,213.0V217.0M135.52,213.0V215.0M139.16,213.0V215.0M141.75,213.0V215.0M143.75,213.0V215.0M145.39,213.0V215.0M146.77,213.0V215.0M147.97,213.0V215.0M149.03,213.0V215.0M149.98,213.0V217.0M156.20,213.0V215.0M159.84,213.0V215.0M162.42,213.0V215.0M164.43,213.0V215.0M166.06,213.0V215.0M167.45,213.0V215.0M168.65,213.0V215.0M169.70,213.0V215.0M170.65,213.0V217.0M176.87,213.0V215.0M180.51,213.0V215.0M183.10,213.0V215.0M185.10,213.0V215.0M186.74,213.0V215.0M188.12,213.0V215.0M189.32,213.0V215.0M190.38,213.0V215.0M191.32,213.0V217.0M197.55,213.0V215.0M201.19,213.0V215.0M203.77,213.0V215.0M205.78,213.0V215.0M207.41,213.0V215.0M208.80,213.0V215.0M210.00,213.0V215.0M211.05,213.0V215.0M212.00,213.0V217.0" stroke="#000" stroke-width="0.95" fill="none"/>
<text transform="translate(124.50,226.70) scale(0.85,1)" font-size="8.6">10</text>
<text x="132.20" y="222.30" font-size="7">0</text>
<text transform="translate(145.08,226.70) scale(0.85,1)" font-size="8.6">10</text>
<text x="152.78" y="222.30" font-size="7">1</text>
<text transform="translate(165.40,226.70) scale(0.85,1)" font-size="8.6">10</text>
<text x="173.10" y="222.30" font-size="7">2</text>
<text transform="translate(185.52,226.70) scale(0.85,1)" font-size="8.6">10</text>
<text x="193.22" y="222.30" font-size="7">3</text>
<text transform="translate(205.70,226.70) scale(0.85,1)" font-size="8.6">10</text>
<text x="213.40" y="222.30" font-size="7">4</text>
<path d="M176.1,179.5V193.9M176.1,186.7H212" stroke="#1a1a1a" stroke-width="1.15" fill="none"/>
<text x="178.00" y="181.10" font-size="10.5" text-anchor="start" font-weight="normal" fill="#000">12.1%</text>
<text x="263.30" y="141.50" font-size="12.35" text-anchor="middle" font-weight="normal" fill="#000">Tim-2/NRK</text>
<path d="M222.2,212.8 L223.0,212.7 L223.8,212.7 L224.6,212.8 L225.4,212.7 L226.2,212.7 L227.0,212.6 L227.8,212.6 L228.6,212.7 L229.4,212.5 L230.2,212.1 L231.0,210.0 L231.8,209.3 L232.6,209.4 L233.4,209.4 L234.2,206.5 L235.0,203.0 L235.8,201.5 L236.6,198.1 L237.4,192.8 L238.2,189.0 L239.0,186.0 L239.8,179.7 L240.6,176.0 L241.4,170.8 L242.2,167.9 L243.0,164.2 L243.8,161.0 L244.6,156.0 L245.4,154.5 L246.2,155.9 L247.0,151.4 L247.8,147.1 L248.6,154.1 L249.4,155.4 L250.2,160.3 L251.0,160.7 L251.8,162.6 L252.6,160.5 L253.4,163.3 L254.2,164.6 L255.0,170.6 L255.8,174.2 L256.6,178.4 L257.4,184.9 L258.2,188.4 L259.0,193.7 L259.8,195.0 L260.6,199.1 L261.4,201.7 L262.2,203.9 L263.0,206.7 L263.8,206.8 L264.6,207.6 L265.4,209.0 L266.2,208.9 L267.0,208.4 L267.8,208.6 L268.6,209.8 L269.4,209.5 L270.2,210.7 L271.0,209.5 L271.8,210.2 L272.6,209.9 L273.4,208.9 L274.2,210.6 L275.0,208.7 L275.8,210.0 L276.6,209.4 L277.4,209.7 L278.2,210.9 L279.0,210.9 L279.8,211.2 L280.6,210.7 L281.4,211.1 L282.2,211.3 L283.0,210.2 L283.8,210.4 L284.6,210.3 L285.4,211.2 L286.2,211.7 L287.0,211.0 L287.8,211.5 L288.6,211.6 L289.4,210.8 L290.2,211.3 L291.0,212.2 L291.8,212.1 L292.6,211.9 L293.4,212.0 L294.2,211.9 L295.0,211.7 L295.8,212.0 L296.6,212.1 L297.4,212.3 L298.2,212.2 L299.0,212.0 L299.8,212.2 L300.6,212.4 L301.4,212.3 L302.2,212.5 L303.0,212.5 L303.8,212.6 L303.8,213.0 L222.2,213.0 Z" fill="#565656" stroke="#000" stroke-width="0.9" stroke-linejoin="round"/>
<rect x="222.2" y="147.1" width="82.19999999999999" height="65.9" fill="none" stroke="#1a1a1a" stroke-width="1.1"/>
<path d="M218.9,213.00H222.2M220.3,211.68H222.2M220.3,210.36H222.2M220.3,209.05H222.2M220.3,207.73H222.2M220.3,206.41H222.2M220.3,205.09H222.2M220.3,203.77H222.2M220.3,202.46H222.2M220.3,201.14H222.2M218.9,199.82H222.2M220.3,198.50H222.2M220.3,197.18H222.2M220.3,195.87H222.2M220.3,194.55H222.2M220.3,193.23H222.2M220.3,191.91H222.2M220.3,190.59H222.2M220.3,189.28H222.2M220.3,187.96H222.2M218.9,186.64H222.2M220.3,185.32H222.2M220.3,184.00H222.2M220.3,182.69H222.2M220.3,181.37H222.2M220.3,180.05H222.2M220.3,178.73H222.2M220.3,177.41H222.2M220.3,176.10H222.2M220.3,174.78H222.2M218.9,173.46H222.2M220.3,172.14H222.2M220.3,170.82H222.2M220.3,169.51H222.2M220.3,168.19H222.2M220.3,166.87H222.2M220.3,165.55H222.2M220.3,164.23H222.2M220.3,162.92H222.2M220.3,161.60H222.2M218.9,160.28H222.2M220.3,158.96H222.2M220.3,157.64H222.2M220.3,156.33H222.2M220.3,155.01H222.2M220.3,153.69H222.2M220.3,152.37H222.2M220.3,151.05H222.2M220.3,149.74H222.2M220.3,148.42H222.2M218.9,147.10H222.2" stroke="#000" stroke-width="0.85" fill="none"/>
<path d="M222.20,213.0V217.0M228.39,213.0V215.0M232.00,213.0V215.0M234.57,213.0V215.0M236.56,213.0V215.0M238.19,213.0V215.0M239.57,213.0V215.0M240.76,213.0V215.0M241.81,213.0V215.0M242.75,213.0V217.0M248.94,213.0V215.0M252.55,213.0V215.0M255.12,213.0V215.0M257.11,213.0V215.0M258.74,213.0V215.0M260.12,213.0V215.0M261.31,213.0V215.0M262.36,213.0V215.0M263.30,213.0V217.0M269.49,213.0V215.0M273.10,213.0V215.0M275.67,213.0V215.0M277.66,213.0V215.0M279.29,213.0V215.0M280.67,213.0V215.0M281.86,213.0V215.0M282.91,213.0V215.0M283.85,213.0V217.0M290.04,213.0V215.0M293.65,213.0V215.0M296.22,213.0V215.0M298.21,213.0V215.0M299.84,213.0V215.0M301.22,213.0V215.0M302.41,213.0V215.0M303.46,213.0V215.0M304.40,213.0V217.0" stroke="#000" stroke-width="0.95" fill="none"/>
<text transform="translate(217.40,226.70) scale(0.85,1)" font-size="8.6">10</text>
<text x="225.10" y="222.30" font-size="7">0</text>
<text transform="translate(237.85,226.70) scale(0.85,1)" font-size="8.6">10</text>
<text x="245.55" y="222.30" font-size="7">1</text>
<text transform="translate(258.05,226.70) scale(0.85,1)" font-size="8.6">10</text>
<text x="265.75" y="222.30" font-size="7">2</text>
<text transform="translate(278.05,226.70) scale(0.85,1)" font-size="8.6">10</text>
<text x="285.75" y="222.30" font-size="7">3</text>
<text transform="translate(298.10,226.70) scale(0.85,1)" font-size="8.6">10</text>
<text x="305.80" y="222.30" font-size="7">4</text>
<path d="M268.3,179.6V194.0M268.3,186.8H304.4" stroke="#1a1a1a" stroke-width="1.15" fill="none"/>
<text x="273.00" y="181.10" font-size="10.5" text-anchor="start" font-weight="normal" fill="#000">3.7%</text>
<text x="356.20" y="141.50" font-size="12.35" text-anchor="middle" font-weight="normal" fill="#000">Tim-3/NRK</text>
<path d="M314.2,212.8 L315.0,212.8 L315.8,212.8 L316.6,212.8 L317.4,212.8 L318.2,212.7 L319.0,212.8 L319.8,212.6 L320.6,212.8 L321.4,212.7 L322.2,212.7 L323.0,212.8 L323.8,212.7 L324.6,212.6 L325.4,212.8 L326.2,212.7 L327.0,212.3 L327.8,211.7 L328.6,212.1 L329.4,211.1 L330.2,210.1 L331.0,209.4 L331.8,209.4 L332.6,205.9 L333.4,204.3 L334.2,200.2 L335.0,197.5 L335.8,192.4 L336.6,188.0 L337.4,185.7 L338.2,183.2 L339.0,180.4 L339.8,174.5 L340.6,174.9 L341.4,174.0 L342.2,171.0 L343.0,175.0 L343.8,176.0 L344.6,174.6 L345.4,173.3 L346.2,177.7 L347.0,180.0 L347.8,185.1 L348.6,188.8 L349.4,192.5 L350.2,194.1 L351.0,198.6 L351.8,200.3 L352.6,202.1 L353.4,201.6 L354.2,204.8 L355.0,205.9 L355.8,205.2 L356.6,206.0 L357.4,206.7 L358.2,206.3 L359.0,206.9 L359.8,207.5 L360.6,207.1 L361.4,208.7 L362.2,207.2 L363.0,208.0 L363.8,206.7 L364.6,208.3 L365.4,205.9 L366.2,204.2 L367.0,203.0 L367.8,203.4 L368.6,203.8 L369.4,201.5 L370.2,200.5 L371.0,203.0 L371.8,201.1 L372.6,200.7 L373.4,200.7 L374.2,202.4 L375.0,200.7 L375.8,200.9 L376.6,201.1 L377.4,199.7 L378.2,199.3 L379.0,200.2 L379.8,198.0 L380.6,200.3 L381.4,198.5 L382.2,202.4 L383.0,201.2 L383.8,204.4 L384.6,203.9 L385.4,204.6 L386.2,206.8 L387.0,206.7 L387.8,208.8 L388.6,208.8 L389.4,208.7 L390.2,209.0 L391.0,209.1 L391.8,209.4 L392.6,208.4 L393.4,209.9 L394.2,210.7 L395.0,211.1 L395.8,211.4 L395.8,213.0 L314.2,213.0 Z" fill="#565656" stroke="#000" stroke-width="0.9" stroke-linejoin="round"/>
<rect x="314.2" y="147.1" width="82.19999999999999" height="65.9" fill="none" stroke="#1a1a1a" stroke-width="1.1"/>
<path d="M310.9,213.00H314.2M312.3,211.68H314.2M312.3,210.36H314.2M312.3,209.05H314.2M312.3,207.73H314.2M312.3,206.41H314.2M312.3,205.09H314.2M312.3,203.77H314.2M312.3,202.46H314.2M312.3,201.14H314.2M310.9,199.82H314.2M312.3,198.50H314.2M312.3,197.18H314.2M312.3,195.87H314.2M312.3,194.55H314.2M312.3,193.23H314.2M312.3,191.91H314.2M312.3,190.59H314.2M312.3,189.28H314.2M312.3,187.96H314.2M310.9,186.64H314.2M312.3,185.32H314.2M312.3,184.00H314.2M312.3,182.69H314.2M312.3,181.37H314.2M312.3,180.05H314.2M312.3,178.73H314.2M312.3,177.41H314.2M312.3,176.10H314.2M312.3,174.78H314.2M310.9,173.46H314.2M312.3,172.14H314.2M312.3,170.82H314.2M312.3,169.51H314.2M312.3,168.19H314.2M312.3,166.87H314.2M312.3,165.55H314.2M312.3,164.23H314.2M312.3,162.92H314.2M312.3,161.60H314.2M310.9,160.28H314.2M312.3,158.96H314.2M312.3,157.64H314.2M312.3,156.33H314.2M312.3,155.01H314.2M312.3,153.69H314.2M312.3,152.37H314.2M312.3,151.05H314.2M312.3,149.74H314.2M312.3,148.42H314.2M310.9,147.10H314.2" stroke="#000" stroke-width="0.85" fill="none"/>
<path d="M314.20,213.0V217.0M320.39,213.0V215.0M324.00,213.0V215.0M326.57,213.0V215.0M328.56,213.0V215.0M330.19,213.0V215.0M331.57,213.0V215.0M332.76,213.0V215.0M333.81,213.0V215.0M334.75,213.0V217.0M340.94,213.0V215.0M344.55,213.0V215.0M347.12,213.0V215.0M349.11,213.0V215.0M350.74,213.0V215.0M352.12,213.0V215.0M353.31,213.0V215.0M354.36,213.0V215.0M355.30,213.0V217.0M361.49,213.0V215.0M365.10,213.0V215.0M367.67,213.0V215.0M369.66,213.0V215.0M371.29,213.0V215.0M372.67,213.0V215.0M373.86,213.0V215.0M374.91,213.0V215.0M375.85,213.0V217.0M382.04,213.0V215.0M385.65,213.0V215.0M388.22,213.0V215.0M390.21,213.0V215.0M391.84,213.0V215.0M393.22,213.0V215.0M394.41,213.0V215.0M395.46,213.0V215.0M396.40,213.0V217.0" stroke="#000" stroke-width="0.95" fill="none"/>
<text transform="translate(309.40,226.70) scale(0.85,1)" font-size="8.6">10</text>
<text x="317.10" y="222.30" font-size="7">0</text>
<text transform="translate(329.85,226.70) scale(0.85,1)" font-size="8.6">10</text>
<text x="337.55" y="222.30" font-size="7">1</text>
<text transform="translate(350.05,226.70) scale(0.85,1)" font-size="8.6">10</text>
<text x="357.75" y="222.30" font-size="7">2</text>
<text transform="translate(370.05,226.70) scale(0.85,1)" font-size="8.6">10</text>
<text x="377.75" y="222.30" font-size="7">3</text>
<text transform="translate(390.10,226.70) scale(0.85,1)" font-size="8.6">10</text>
<text x="397.80" y="222.30" font-size="7">4</text>
<path d="M360.5,179.7V194.1M360.5,186.9H396.4" stroke="#1a1a1a" stroke-width="1.15" fill="none"/>
<text x="362.00" y="181.10" font-size="10.5" text-anchor="start" font-weight="normal" fill="#000">31.9%</text>
<text x="450.80" y="141.50" font-size="12.35" text-anchor="middle" font-weight="normal" fill="#000">Tim-4/NRK</text>
<path d="M409.6,212.8 L410.4,212.8 L411.2,212.8 L412.0,212.8 L412.8,212.8 L413.6,212.8 L414.4,212.7 L415.2,212.7 L416.0,212.7 L416.8,212.7 L417.6,212.6 L418.4,212.7 L419.2,212.6 L420.0,212.3 L420.8,212.0 L421.6,210.7 L422.4,212.5 L423.2,210.5 L424.0,211.6 L424.8,209.4 L425.6,207.6 L426.4,207.0 L427.2,203.0 L428.0,198.4 L428.8,196.2 L429.6,190.7 L430.4,188.8 L431.2,184.0 L432.0,178.2 L432.8,176.4 L433.6,172.2 L434.4,165.4 L435.2,164.3 L436.0,161.3 L436.8,165.4 L437.6,163.3 L438.4,159.4 L439.2,157.4 L440.0,161.5 L440.8,167.4 L441.6,171.4 L442.4,177.6 L443.2,182.4 L444.0,185.6 L444.8,192.6 L445.6,194.3 L446.4,197.0 L447.2,199.6 L448.0,202.4 L448.8,201.5 L449.6,202.7 L450.4,204.2 L451.2,204.5 L452.0,204.5 L452.8,206.0 L453.6,205.4 L454.4,206.2 L455.2,207.2 L456.0,206.3 L456.8,206.6 L457.6,204.6 L458.4,203.1 L459.2,204.8 L460.0,202.5 L460.8,200.3 L461.6,200.3 L462.4,200.0 L463.2,198.7 L464.0,196.8 L464.8,197.9 L465.6,198.3 L466.4,197.2 L467.2,198.9 L468.0,198.5 L468.8,199.6 L469.6,199.4 L470.4,200.6 L471.2,198.4 L472.0,199.8 L472.8,199.1 L473.6,201.2 L474.4,201.8 L475.2,201.9 L476.0,203.0 L476.8,203.3 L477.6,203.9 L478.4,203.8 L479.2,204.8 L480.0,205.6 L480.8,206.5 L481.6,207.4 L482.4,208.4 L483.2,209.6 L484.0,209.6 L484.8,211.0 L485.6,211.6 L486.4,210.2 L487.2,210.4 L488.0,211.3 L488.8,210.5 L489.6,211.3 L490.4,211.7 L491.2,212.1 L492.0,211.1 L492.0,213.0 L409.6,213.0 Z" fill="#565656" stroke="#000" stroke-width="0.9" stroke-linejoin="round"/>
<rect x="409.6" y="147.1" width="82.39999999999998" height="65.9" fill="none" stroke="#1a1a1a" stroke-width="1.1"/>
<path d="M406.3,213.00H409.6M407.7,211.68H409.6M407.7,210.36H409.6M407.7,209.05H409.6M407.7,207.73H409.6M407.7,206.41H409.6M407.7,205.09H409.6M407.7,203.77H409.6M407.7,202.46H409.6M407.7,201.14H409.6M406.3,199.82H409.6M407.7,198.50H409.6M407.7,197.18H409.6M407.7,195.87H409.6M407.7,194.55H409.6M407.7,193.23H409.6M407.7,191.91H409.6M407.7,190.59H409.6M407.7,189.28H409.6M407.7,187.96H409.6M406.3,186.64H409.6M407.7,185.32H409.6M407.7,184.00H409.6M407.7,182.69H409.6M407.7,181.37H409.6M407.7,180.05H409.6M407.7,178.73H409.6M407.7,177.41H409.6M407.7,176.10H409.6M407.7,174.78H409.6M406.3,173.46H409.6M407.7,172.14H409.6M407.7,170.82H409.6M407.7,169.51H409.6M407.7,168.19H409.6M407.7,166.87H409.6M407.7,165.55H409.6M407.7,164.23H409.6M407.7,162.92H409.6M407.7,161.60H409.6M406.3,160.28H409.6M407.7,158.96H409.6M407.7,157.64H409.6M407.7,156.33H409.6M407.7,155.01H409.6M407.7,153.69H409.6M407.7,152.37H409.6M407.7,151.05H409.6M407.7,149.74H409.6M407.7,148.42H409.6M406.3,147.10H409.6" stroke="#000" stroke-width="0.85" fill="none"/>
<path d="M409.60,213.0V217.0M415.80,213.0V215.0M419.43,213.0V215.0M422.00,213.0V215.0M424.00,213.0V215.0M425.63,213.0V215.0M427.01,213.0V215.0M428.20,213.0V215.0M429.26,213.0V215.0M430.20,213.0V217.0M436.40,213.0V215.0M440.03,213.0V215.0M442.60,213.0V215.0M444.60,213.0V215.0M446.23,213.0V215.0M447.61,213.0V215.0M448.80,213.0V215.0M449.86,213.0V215.0M450.80,213.0V217.0M457.00,213.0V215.0M460.63,213.0V215.0M463.20,213.0V215.0M465.20,213.0V215.0M466.83,213.0V215.0M468.21,213.0V215.0M469.40,213.0V215.0M470.46,213.0V215.0M471.40,213.0V217.0M477.60,213.0V215.0M481.23,213.0V215.0M483.80,213.0V215.0M485.80,213.0V215.0M487.43,213.0V215.0M488.81,213.0V215.0M490.00,213.0V215.0M491.06,213.0V215.0M492.00,213.0V217.0" stroke="#000" stroke-width="0.95" fill="none"/>
<text transform="translate(404.80,226.70) scale(0.85,1)" font-size="8.6">10</text>
<text x="412.50" y="222.30" font-size="7">0</text>
<text transform="translate(425.30,226.70) scale(0.85,1)" font-size="8.6">10</text>
<text x="433.00" y="222.30" font-size="7">1</text>
<text transform="translate(445.55,226.70) scale(0.85,1)" font-size="8.6">10</text>
<text x="453.25" y="222.30" font-size="7">2</text>
<text transform="translate(465.60,226.70) scale(0.85,1)" font-size="8.6">10</text>
<text x="473.30" y="222.30" font-size="7">3</text>
<text transform="translate(485.70,226.70) scale(0.85,1)" font-size="8.6">10</text>
<text x="493.40" y="222.30" font-size="7">4</text>
<path d="M455.9,178.7V193.1M455.9,185.9H492" stroke="#1a1a1a" stroke-width="1.15" fill="none"/>
<text x="457.80" y="181.10" font-size="10.5" text-anchor="start" font-weight="normal" fill="#000">26.0%</text>
<path d="M208,101.3H319" stroke="#111" stroke-width="1.3" fill="none"/>
<path d="M329,101.3 L318,97.3 L318,105.3 Z" fill="#000"/>
<text x="226.50" y="115.80" font-size="10.72" text-anchor="start" font-weight="normal" fill="#000">Tim expression</text>
<path d="M208,235.0H321.2" stroke="#111" stroke-width="1.3" fill="none"/>
<path d="M331.2,235.0 L320.2,231.0 L320.2,239.0 Z" fill="#000"/>
<text x="207.20" y="249.30" font-size="10.66" text-anchor="start" font-weight="normal" fill="#000">Apoptotic cell recognition</text>
<path d="M36.6,269.4V402.0H240" stroke="#000" stroke-width="1.15" fill="none"/>
<text x="30.30" y="406.85" font-size="10.2" text-anchor="end" font-weight="normal" >0</text>
<text x="30.30" y="387.90" font-size="10.2" text-anchor="end" font-weight="normal" >5</text>
<text x="30.30" y="369.05" font-size="10.2" text-anchor="end" font-weight="normal" >10</text>
<text x="30.30" y="350.20" font-size="10.2" text-anchor="end" font-weight="normal" >15</text>
<text x="30.30" y="331.35" font-size="10.2" text-anchor="end" font-weight="normal" >20</text>
<text x="30.30" y="312.50" font-size="10.2" text-anchor="end" font-weight="normal" >25</text>
<text x="30.30" y="293.65" font-size="10.2" text-anchor="end" font-weight="normal" >30</text>
<text x="30.30" y="274.50" font-size="10.2" text-anchor="end" font-weight="normal" >35</text>
<path d="M36.6,383.15h1.8M36.6,364.30h1.8M36.6,345.45h1.8M36.6,326.60h1.8M36.6,307.75h1.8M36.6,288.90h1.8M36.6,270.05h1.8M76.9,402.0v-2.2M117.2,402.0v-2.2M157.5,402.0v-2.2M197.8,402.0v-2.2" stroke="#000" stroke-width="0.9" fill="none"/>
<text transform="translate(9.6,366.4) rotate(-90)" font-size="11">% recognition</text>
<rect x="45.00" y="380.40" width="11.80" height="21.60" fill="#fff" stroke="#000" stroke-width="1"/>
<path d="M50.90,380.40V377.80M48.10,377.80h5.6" stroke="#000" stroke-width="1.1" fill="none"/>
<rect x="56.80" y="398.50" width="11.80" height="3.50" fill="#000" stroke="#000" stroke-width="1"/>
<path d="M62.70,398.50V397.70M59.90,397.70h5.6" stroke="#000" stroke-width="1.1" fill="none"/>
<rect x="85.80" y="337.30" width="11.80" height="64.70" fill="#fff" stroke="#000" stroke-width="1"/>
<path d="M91.70,337.30V327.40M88.90,327.40h5.6" stroke="#000" stroke-width="1.1" fill="none"/>
<rect x="97.60" y="386.30" width="11.80" height="15.70" fill="#000" stroke="#000" stroke-width="1"/>
<path d="M103.50,386.30V383.40M100.70,383.40h5.6" stroke="#000" stroke-width="1.1" fill="none"/>
<rect x="126.50" y="383.40" width="11.80" height="18.60" fill="#fff" stroke="#000" stroke-width="1"/>
<path d="M132.40,383.40V380.80M129.60,380.80h5.6" stroke="#000" stroke-width="1.1" fill="none"/>
<rect x="138.30" y="398.90" width="11.80" height="3.10" fill="#000" stroke="#000" stroke-width="1"/>
<path d="M144.20,398.90V398.00M141.40,398.00h5.6" stroke="#000" stroke-width="1.1" fill="none"/>
<rect x="166.60" y="282.20" width="11.80" height="119.80" fill="#fff" stroke="#000" stroke-width="1"/>
<path d="M172.50,282.20V276.20M169.70,276.20h5.6" stroke="#000" stroke-width="1.1" fill="none"/>
<rect x="178.40" y="380.80" width="11.80" height="21.20" fill="#000" stroke="#000" stroke-width="1"/>
<path d="M184.30,380.80V378.20M181.50,378.20h5.6" stroke="#000" stroke-width="1.1" fill="none"/>
<rect x="207.30" y="292.40" width="11.80" height="109.60" fill="#fff" stroke="#000" stroke-width="1"/>
<path d="M213.20,292.40V286.60M210.40,286.60h5.6" stroke="#000" stroke-width="1.1" fill="none"/>
<rect x="219.10" y="376.40" width="11.80" height="25.60" fill="#000" stroke="#000" stroke-width="1"/>
<path d="M225.00,376.40V370.70M222.20,370.70h5.6" stroke="#000" stroke-width="1.1" fill="none"/>
<text x="47.30" y="416.90" font-size="11.5" text-anchor="start" font-weight="normal" >NRK</text>
<text x="85.60" y="416.90" font-size="11.5" text-anchor="start" font-weight="normal" >Tim-1/</text>
<text x="85.60" y="427.90" font-size="11.5" text-anchor="start" font-weight="normal" >NRK</text>
<text x="126.70" y="416.90" font-size="11.5" text-anchor="start" font-weight="normal" >Tim-2/</text>
<text x="126.70" y="427.90" font-size="11.5" text-anchor="start" font-weight="normal" >NRK</text>
<text x="167.40" y="416.90" font-size="11.5" text-anchor="start" font-weight="normal" >Tim-3/</text>
<text x="167.40" y="427.90" font-size="11.5" text-anchor="start" font-weight="normal" >NRK</text>
<text x="207.70" y="416.90" font-size="11.5" text-anchor="start" font-weight="normal" >Tim-4/</text>
<text x="207.70" y="427.90" font-size="11.5" text-anchor="start" font-weight="normal" >NRK</text>
<rect x="233.8" y="324.4" width="5.6" height="5.6" fill="#fff" stroke="#000" stroke-width="1"/>
<rect x="233.8" y="335.2" width="5.6" height="5.6" fill="#000" stroke="#000" stroke-width="1"/>
<text x="244.30" y="329.60" font-size="10.5" text-anchor="start" font-weight="normal" >apo</text>
<text x="244.30" y="341.00" font-size="10.5" text-anchor="start" font-weight="normal" >live</text>
<path d="M320.5,269.3V402.0H454" stroke="#000" stroke-width="1.15" fill="none"/>
<text x="314.30" y="407.05" font-size="10.2" text-anchor="end" font-weight="normal" >0</text>
<text x="313.40" y="380.50" font-size="10.2" text-anchor="end" font-weight="normal" >10</text>
<text x="313.40" y="354.05" font-size="10.2" text-anchor="end" font-weight="normal" >20</text>
<text x="313.40" y="327.60" font-size="10.2" text-anchor="end" font-weight="normal" >30</text>
<text x="313.40" y="301.15" font-size="10.2" text-anchor="end" font-weight="normal" >40</text>
<text x="313.40" y="274.70" font-size="10.2" text-anchor="end" font-weight="normal" >50</text>
<path d="M320.5,375.55h1.8M320.5,349.10h1.8M320.5,322.65h1.8M320.5,296.20h1.8M320.5,269.75h1.8M366.9,402.0v-3M413.3,402.0v-3" stroke="#000" stroke-width="0.9" fill="none"/>
<text transform="translate(291.7,371.4) rotate(-90)" font-size="11">% recognition</text>
<rect x="328.20" y="385.50" width="10.40" height="16.50" fill="#fff" stroke="#000" stroke-width="1"/>
<path d="M333.40,385.50V384.20M330.80,384.20h5.2" stroke="#000" stroke-width="1.1" fill="none"/>
<rect x="338.60" y="380.40" width="10.40" height="21.60" fill="#000" stroke="#000" stroke-width="1"/>
<path d="M343.80,380.40V373.50M341.20,373.50h5.2" stroke="#000" stroke-width="1.1" fill="none"/>
<rect x="349.00" y="381.30" width="10.40" height="20.70" fill="#b4b4b4" stroke="#000" stroke-width="1"/>
<path d="M354.20,381.30V378.70M351.60,378.70h5.2" stroke="#000" stroke-width="1.1" fill="none"/>
<rect x="374.40" y="305.20" width="10.70" height="96.80" fill="#fff" stroke="#000" stroke-width="1"/>
<path d="M379.75,305.20V301.70M377.15,301.70h5.2" stroke="#000" stroke-width="1.1" fill="none"/>
<rect x="385.10" y="376.10" width="10.70" height="25.90" fill="#000" stroke="#000" stroke-width="1"/>
<path d="M390.45,376.10V375.50M387.85,375.50h5.2" stroke="#000" stroke-width="1.1" fill="none"/>
<rect x="395.80" y="305.70" width="10.70" height="96.30" fill="#b4b4b4" stroke="#000" stroke-width="1"/>
<path d="M401.15,305.70V298.60M398.55,298.60h5.2" stroke="#000" stroke-width="1.1" fill="none"/>
<rect x="420.60" y="305.70" width="10.70" height="96.30" fill="#fff" stroke="#000" stroke-width="1"/>
<path d="M425.95,305.70V299.70M423.35,299.70h5.2" stroke="#000" stroke-width="1.1" fill="none"/>
<rect x="431.30" y="295.70" width="10.70" height="106.30" fill="#000" stroke="#000" stroke-width="1"/>
<path d="M436.65,295.70V286.70M434.05,286.70h5.2" stroke="#000" stroke-width="1.1" fill="none"/>
<rect x="442.00" y="360.90" width="10.70" height="41.10" fill="#b4b4b4" stroke="#000" stroke-width="1"/>
<path d="M447.35,360.90V359.60M444.75,359.60h5.2" stroke="#000" stroke-width="1.1" fill="none"/>
<text x="330.00" y="416.90" font-size="11.5" text-anchor="start" font-weight="normal" >NRK</text>
<text x="371.00" y="416.90" font-size="11.5" text-anchor="start" font-weight="normal" >Tim-3/</text>
<text x="371.00" y="427.90" font-size="11.5" text-anchor="start" font-weight="normal" >NRK</text>
<text x="417.30" y="416.90" font-size="11.5" text-anchor="start" font-weight="normal" >Tim-4/</text>
<text x="417.30" y="427.90" font-size="11.5" text-anchor="start" font-weight="normal" >NRK</text>
<rect x="465.2" y="308.9" width="5.8" height="5.8" fill="#fff" stroke="#000" stroke-width="1"/>
<rect x="465.2" y="326.8" width="5.8" height="5.8" fill="#000" stroke="#000" stroke-width="1"/>
<rect x="465.2" y="344.9" width="5.8" height="5.8" fill="#b4b4b4" stroke="#000" stroke-width="1"/>
<text x="476.40" y="313.80" font-size="10" text-anchor="start" font-weight="normal" letter-spacing="0.15">rIgG2a</text>
<text x="476.40" y="333.50" font-size="10" text-anchor="start" font-weight="normal" letter-spacing="0.2">RMT3-23</text>
<text x="476.40" y="351.20" font-size="10" text-anchor="start" font-weight="normal" letter-spacing="0.2">RMT4-54</text>
</svg>
</body></html>
